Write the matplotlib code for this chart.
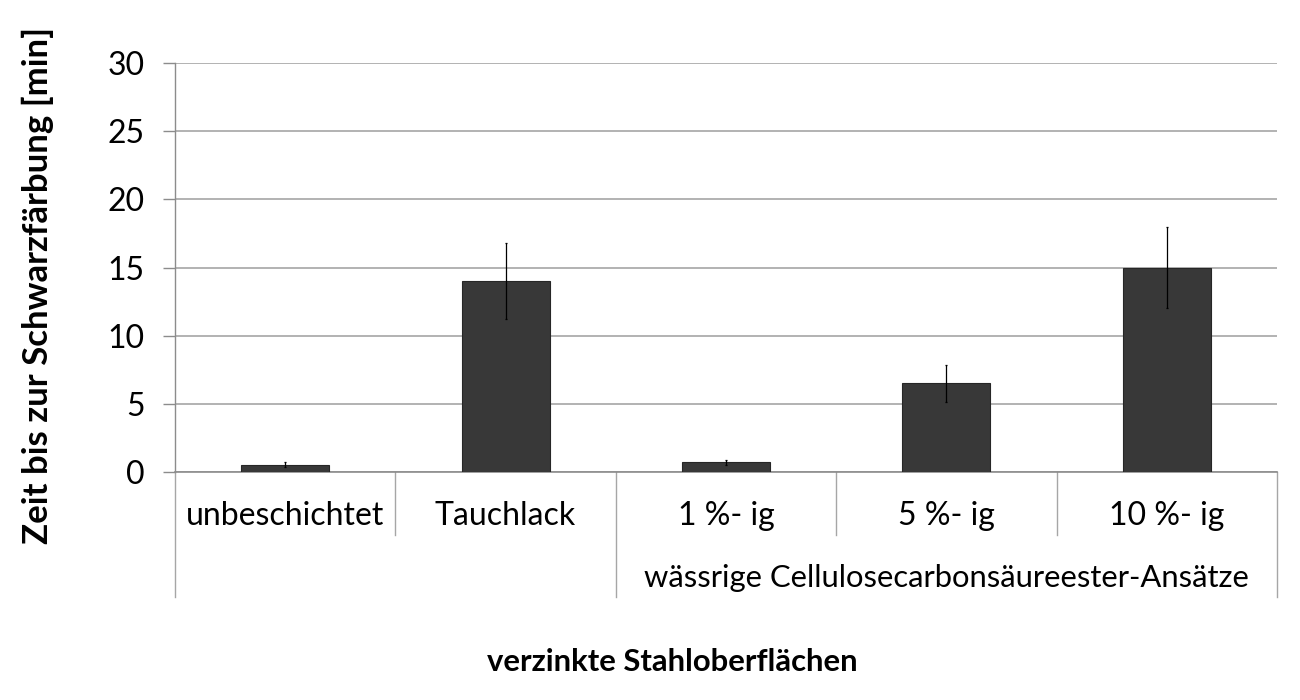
import matplotlib
matplotlib.use("Agg")
from matplotlib import pyplot as plt, transforms as mtrans

categories = ["unbeschichtet", "Tauchlack", "1 %- ig", "5 %- ig", "10 %- ig"]
values = [0.55, 14.0, 0.7, 6.5, 15.0]
errors = [0.15, 2.8, 0.18, 1.33, 3.0]
group_label = "wässrige Cellulosecarbonsäureester-Ansätze"
yticks = [0, 5, 10, 15, 20, 25, 30]

plt.rcParams['font.family'] = ['Lato', 'DejaVu Sans']

fig = plt.figure(figsize=(13, 7), dpi=100)
ax = fig.add_axes([175 / 1300, 1 - 472 / 700, (1277 - 175) / 1300, (472 - 63) / 700])

x = list(range(len(categories)))
ax.bar(x, values, width=0.4, color='#383838', edgecolor='#262626', linewidth=0.8, zorder=3)
ax.errorbar(x, values, yerr=errors, fmt='none', ecolor='black', elinewidth=0.9,
            capsize=1, capthick=0.9, zorder=4)

ax.set_xlim(-0.5, len(categories) - 0.5)
ax.set_ylim(0, 30)
ax.set_yticks(yticks)
ax.yaxis.grid(True, color='#a6a6a6', linewidth=1.2, zorder=0)
ax.set_axisbelow(True)
ax.tick_params(axis='y', length=9, width=1, color='#8c8c8c', labelsize=23, pad=13)
ax.set_xticks([])

for s in ['top', 'right']:
    ax.spines[s].set_visible(False)
ax.spines['left'].set_color('#8c8c8c')
ax.spines['bottom'].set_color('#8c8c8c')
ax.spines['left'].set_linewidth(1)
ax.spines['bottom'].set_linewidth(1.2)

trans = mtrans.blended_transform_factory(ax.transData, ax.transAxes)
short_y = -(535 - 472) / 409
long_y = -(597 - 472) / 409
# separator lines below the axis (category / group table)
for i in range(len(categories) + 1):
    b = i - 0.5
    y_end = long_y if i in (0, 2, len(categories)) else short_y
    ax.plot([b, b], [0, y_end], transform=trans, color='#a6a6a6', linewidth=1, clip_on=False)

for xi, cat in zip(x, categories):
    ax.text(xi, -(516 - 472) / 409, cat, transform=trans, ha='center', va='center', fontsize=23)

ax.text(3, -(578 - 472) / 409, group_label, transform=trans, ha='center', va='center', fontsize=22.3)

fig.text(38 / 1300, 1 - 285 / 700, "Zeit bis zur Schwarzfärbung [min]", rotation=90,
         ha='center', va='center', fontsize=25, fontweight='bold')
fig.text(672 / 1300, 1 - 662 / 700, "verzinkte Stahloberflächen",
         ha='center', va='center', fontsize=22.3, fontweight='bold')

fig.savefig("out.png", dpi=100)
